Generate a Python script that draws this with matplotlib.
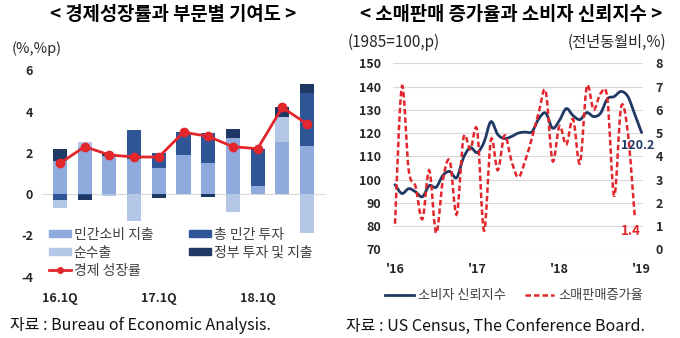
import numpy as np
import matplotlib
matplotlib.use("Agg")
import matplotlib.pyplot as plt
from matplotlib.path import Path
from matplotlib.patches import PathPatch, Patch
from matplotlib.lines import Line2D

plt.rcParams['font.family'] = ['Noto Sans CJK KR', 'DejaVu Sans']

# ---------------- data: left chart ----------------
quarters = ['16.1Q', '16.2Q', '16.3Q', '16.4Q', '17.1Q', '17.2Q', '17.3Q', '17.4Q',
            '18.1Q', '18.2Q', '18.3Q']
quarter_ticks = ['16.1Q', '17.1Q', '18.1Q']
consumption = [1.6, 2.3, 1.85, 1.7, 1.25, 1.9, 1.5, 2.7, 0.4, 2.55, 2.35]
investment = [-0.3, -0.05, 0.0, 1.4, 0.75, 1.1, 1.45, 0.0, 1.75, 0.0, 2.55]
net_exports = [-0.35, 0.25, -0.1, -1.3, 0.0, 0.0, 0.0, -0.85, 0.0, 1.2, -1.9]
government = [0.6, -0.25, 0.1, 0.0, -0.2, 0.0, -0.15, 0.45, 0.05, 0.45, 0.42]
gdp_growth = [1.5, 2.3, 1.9, 1.8, 1.8, 3.0, 2.8, 2.3, 2.2, 4.2, 3.4]
left_names = ['민간소비 지출', '총 민간 투자', '순수출', '정부 투자 및 지출', '경제 성장률']

# ---------------- data: right chart ----------------
year_labels = ["'16", "'17", "'18", "'19"]
consumer_conf = [97.8, 94.0, 96.1, 94.7, 92.6, 97.4, 96.7, 101.8, 103.5, 100.8, 109.4, 113.7,
                 111.6, 116.1, 124.9, 119.4, 117.6, 118.5, 120.0, 120.4, 120.6, 126.2, 128.6, 122.1,
                 125.4, 130.5, 127.5, 125.8, 128.8, 127.1, 128.5, 134.7, 135.7, 137.9, 135.7, 128.1,
                 120.2]
retail_growth = [1.1, 7.0, 3.4, 2.7, 1.3, 3.4, 0.7, 3.0, 3.8, 1.5, 4.8, 4.3,
                 5.1, 0.8, 4.7, 3.4, 4.9, 3.8, 3.1, 3.8, 4.8, 5.9, 6.8, 3.8,
                 5.3, 4.5, 5.6, 3.7, 7.0, 6.0, 6.7, 6.5, 2.3, 6.1, 5.0, 1.4]
right_names = ['소비자 신뢰지수', '소매판매증가율']

# ---------------- styles ----------------
C_CONS = '#8FAADC'
C_INV = '#2F5597'
C_NX = '#B4C7E7'
C_GOV = '#1F3864'
C_RED = '#E3262B'
C_NAVY = '#1F3864'
TXT = '#262626'

W, H = 680, 338
fig = plt.figure(figsize=(W / 100, H / 100), dpi=100)


def fx(px):
    return px / W


def fy(py):
    return 1 - py / H


# ================= left chart =================
ax1 = fig.add_axes([fx(41.5), fy(276.7), fx(325.5) - fx(41.5), fy(70.3) - fy(276.7)])
x = np.arange(len(quarters))
series = [(consumption, C_CONS), (investment, C_INV), (net_exports, C_NX), (government, C_GOV)]
pos_b = np.zeros(len(x))
neg_b = np.zeros(len(x))
for vals, col in series:
    v = np.array(vals, dtype=float)
    bottoms = np.where(v >= 0, pos_b, neg_b)
    ax1.bar(x, v, bottom=bottoms, width=0.57, color=col, zorder=2, linewidth=0)
    pos_b = pos_b + np.where(v >= 0, v, 0)
    neg_b = neg_b + np.where(v < 0, v, 0)
ax1.axhline(0, color='#D9D9D9', lw=0.8, zorder=1)
ax1.plot(x, gdp_growth, color=C_RED, lw=2, marker='o', ms=6, zorder=3)
ax1.set_xlim(-0.75, len(x) - 0.25)
ax1.set_ylim(-4, 6)
ax1.set_yticks([-4, -2, 0, 2, 4, 6])
ax1.set_yticklabels(['-4', '-2', '0', '2', '4', '6'], fontweight='bold', fontsize=9, color=TXT)
ax1.set_xticks([quarters.index(q) for q in quarter_ticks])
ax1.set_xticklabels(quarter_ticks, fontweight='bold', fontsize=9, color=TXT)
ax1.tick_params(axis='both', length=0)
ax1.tick_params(axis='y', pad=6)
ax1.tick_params(axis='x', pad=11)
for s in ax1.spines.values():
    s.set_visible(False)

handles = [Patch(color=C_CONS), Patch(color=C_NX),
           Line2D([], [], color=C_RED, lw=2, marker='o', ms=4),
           Patch(color=C_INV), Patch(color=C_GOV)]
labels = [left_names[0], left_names[2], left_names[4], left_names[1], left_names[3]]
leg = fig.legend(handles, labels, ncol=2, loc='upper left',
                 bbox_to_anchor=(fx(36), fy(215)), frameon=False,
                 prop={'size': 10}, handlelength=1.6, handleheight=0.45,
                 handletextpad=0.2, labelspacing=0.3, columnspacing=2.6)
for t in leg.get_texts():
    t.set_color('#404040')

fig.text(fx(173), fy(15), '< 경제성장률과 부문별 기여도 >', ha='center', va='center',
         fontsize=13.5, fontweight='bold', color='#000000')
fig.text(fx(12), fy(49), '(%,%p)', ha='left', va='center', fontsize=10.5, color=TXT)
fig.text(fx(10), fy(326), '자료 : Bureau of Economic Analysis.', ha='left', va='center',
         fontsize=11.5, color='#111111')


# ================= right chart =================
def smooth_path(xs, ys):
    xs = list(xs)
    ys = list(ys)
    n = len(xs)
    verts = [(xs[0], ys[0])]
    codes = [Path.MOVETO]
    for i in range(n - 1):
        a = i - 1 if i > 0 else i
        d = i + 2 if i + 2 < n else i + 1
        c1 = (xs[i] + (xs[i + 1] - xs[a]) / 6, ys[i] + (ys[i + 1] - ys[a]) / 6)
        c2 = (xs[i + 1] - (xs[d] - xs[i]) / 6, ys[i + 1] - (ys[d] - ys[i]) / 6)
        verts += [c1, c2, (xs[i + 1], ys[i + 1])]
        codes += [Path.CURVE4] * 3
    return Path(verts, codes)


ax2 = fig.add_axes([fx(393.3), fy(249.3), fx(643.3) - fx(393.3), fy(63.3) - fy(249.3)])
ax2r = ax2.twinx()
mx_conf = np.arange(len(consumer_conf))
mx_ret = np.arange(len(retail_growth))
ax2.set_xlim(-0.25, 36.25)
ax2.set_ylim(70, 150)
ax2r.set_ylim(0, 8)
ax2.set_yticks(np.arange(70, 151, 10))
ax2r.set_yticks(np.arange(0, 9, 1))
ax2.grid(axis='y', color='#D9D9D9', lw=0.8)
ax2.set_axisbelow(True)

ax2.add_patch(PathPatch(smooth_path(mx_conf, consumer_conf), fill=False, ec=C_NAVY, lw=2,
                        zorder=3, capstyle='round', joinstyle='round'))
ax2r.add_patch(PathPatch(smooth_path(mx_ret, retail_growth), fill=False, ec=C_RED, lw=1.8,
                         ls=(0, (2.2, 1.2)), zorder=3))

ax2.set_xticks([0, 12, 24, 36])
ax2.set_xticklabels(year_labels, fontweight='bold', fontsize=9, color=TXT)
ax2.set_yticklabels([str(v) for v in range(70, 151, 10)], fontweight='bold', fontsize=9, color=TXT)
ax2r.set_yticklabels([str(v) for v in range(0, 9)], fontweight='bold', fontsize=9, color=TXT)
ax2.tick_params(axis='both', length=0)
ax2r.tick_params(axis='both', length=0)
ax2.tick_params(axis='y', pad=9)
ax2r.tick_params(axis='y', pad=9)
ax2.tick_params(axis='x', pad=10)
for a in (ax2, ax2r):
    for s in a.spines.values():
        s.set_visible(False)

ax2.annotate(f'{consumer_conf[-1]:.1f}', xy=(mx_conf[-1], consumer_conf[-1]),
             xytext=(-2.7, -9), textcoords='offset points', ha='center', va='center',
             fontsize=9, fontweight='bold', color=C_NAVY, annotation_clip=False)
ax2r.annotate(f'{retail_growth[-1]:.1f}', xy=(mx_ret[-1], retail_growth[-1]),
              xytext=(-3, -10), textcoords='offset points', ha='center', va='center',
              fontsize=9.5, fontweight='bold', color=C_RED, annotation_clip=False)

rh = [Line2D([], [], color=C_NAVY, lw=2), Line2D([], [], color=C_RED, lw=1.8, ls=(0, (2.2, 1.2)))]
leg2 = fig.legend(rh, right_names, ncol=2, loc='center', bbox_to_anchor=(fx(514), fy(296)),
                  frameon=False, prop={'size': 9.5}, handlelength=2.2, handletextpad=0.3,
                  columnspacing=1.5)
for t in leg2.get_texts():
    t.set_color('#404040')

fig.text(fx(511), fy(15), '< 소매판매 증가율과 소비자 신뢰지수 >', ha='center', va='center',
         fontsize=13.5, fontweight='bold', color='#000000')
fig.text(fx(348), fy(42), '(1985=100,p)', ha='left', va='center', fontsize=11, color=TXT)
fig.text(fx(666), fy(42), '(전년동월비,%)', ha='right', va='center', fontsize=11, color=TXT)
fig.text(fx(346), fy(326), '자료 : US Census, The Conference Board.', ha='left', va='center',
         fontsize=11.5, color='#111111')

fig.savefig('out.png', dpi=100)
